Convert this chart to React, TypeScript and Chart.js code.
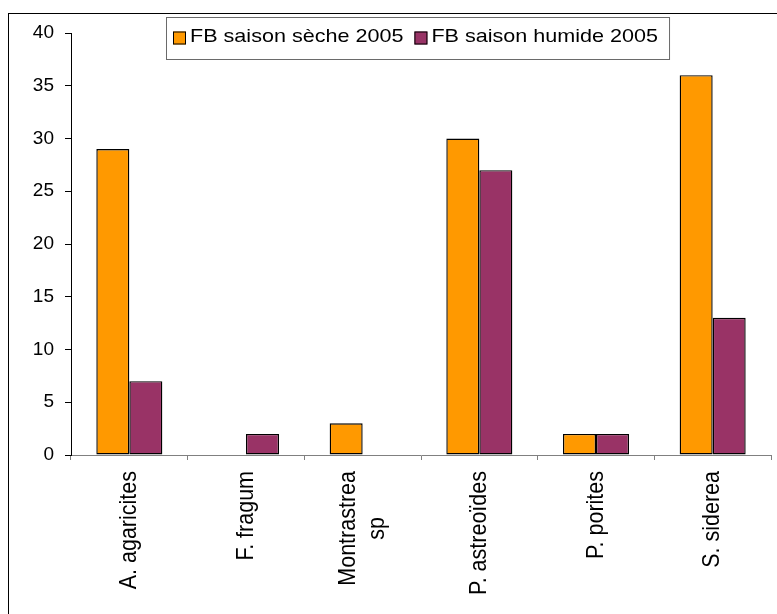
import { useEffect, useRef } from "react";
import { Chart, registerables } from "chart.js";

Chart.register(...registerables);

// Species (a nested array is a label drawn on several lines)
const categories: (string | string[])[] = [
  "A. agaricites",
  "F. fragum",
  ["Montrastrea", "sp"],
  "P. astreoïdes",
  "P. porites",
  "S. siderea",
];

const seriesNames = ["FB saison sèche 2005", "FB saison humide 2005"];
const dryValues = [29, 0, 3, 30, 2, 36];
const wetValues = [7, 2, 0, 27, 2, 13];
const seriesColors = ["#FF9900", "#993366"];

const yMin = 0;
const yMax = 40;
const yStep = 5;

const FONT = "'Liberation Sans', Arial, sans-serif";

// White page, plus the outer frame of the chart object
const framePlugin = {
  id: "frame",
  beforeDraw(chart: any) {
    const ctx = chart.ctx;
    ctx.save();
    ctx.fillStyle = "#fff";
    ctx.fillRect(0, 0, chart.width, chart.height);
    ctx.restore();
  },
  afterDraw(chart: any) {
    const ctx = chart.ctx;
    ctx.save();
    ctx.strokeStyle = "#000";
    ctx.lineWidth = 1;
    ctx.strokeRect(8.5, 13.5, chart.width + 40, chart.height + 40);
    ctx.restore();
  },
};

// Vertical category labels, lines centred on each other
const categoryLabelPlugin = {
  id: "categoryLabels",
  afterDraw(chart: any) {
    const xs = chart.scales.x;
    const ctx = chart.ctx;
    const size = 21.5;
    const stretch = 1.14;
    const lh = size * 1.2;
    ctx.save();
    ctx.font = `${size}px ${FONT}`;
    ctx.fillStyle = "#000";
    ctx.textBaseline = "middle";
    ctx.textAlign = "center";
    (chart.data.labels as (string | string[])[]).forEach((lab, i) => {
      const lines = Array.isArray(lab) ? lab : [lab];
      const w = Math.max(...lines.map((l) => ctx.measureText(l).width));
      ctx.save();
      ctx.translate(xs.getPixelForValue(i), xs.top + 16);
      ctx.rotate(-Math.PI / 2);
      ctx.scale(1, stretch);
      lines.forEach((l, j) => {
        ctx.fillText(l, -w / 2, (j - (lines.length - 1) / 2) * lh);
      });
      ctx.restore();
    });
    ctx.restore();
  },
};

// Boxed legend floating over the top of the plot
const boxLegendPlugin = {
  id: "boxLegend",
  afterDraw(chart: any) {
    const ctx = chart.ctx;
    const size = 18.6;
    const stretch = 1.16;
    const left = 166;
    const top = 17;
    const height = 42;
    const baseline = 41.7;
    ctx.save();
    ctx.font = `${size}px ${FONT}`;
    const items = chart.data.datasets.map((ds: any) => ({
      text: ds.label as string,
      color: ds.backgroundColor as string,
      w: ctx.measureText(ds.label).width * stretch,
    }));
    let x = left + 7;
    const placed: { mx: number; tx: number; text: string; color: string }[] = [];
    items.forEach((it: any) => {
      placed.push({ mx: x, tx: x + 17, text: it.text, color: it.color });
      x = x + 17 + it.w + 11;
    });
    const width = x - left;

    ctx.fillStyle = "#fff";
    ctx.fillRect(left, top, width, height);
    ctx.strokeStyle = "#6a6a6a";
    ctx.lineWidth = 1;
    ctx.strokeRect(left + 0.5, top + 0.5, width, height);

    placed.forEach((p) => {
      ctx.fillStyle = p.color;
      ctx.fillRect(p.mx, 31.5, 13, 13);
      ctx.strokeStyle = "#000";
      ctx.strokeRect(p.mx + 0.5, 32, 12, 12);
      ctx.save();
      ctx.translate(p.tx, baseline);
      ctx.scale(stretch, 1);
      ctx.fillStyle = "#000";
      ctx.textBaseline = "alphabetic";
      ctx.textAlign = "left";
      ctx.fillText(p.text, 0, 0);
      ctx.restore();
    });
    ctx.restore();
  },
};

export default function App() {
  const canvasRef = useRef<HTMLCanvasElement | null>(null);

  useEffect(() => {
    if (!canvasRef.current) return;
    const chart = new Chart(canvasRef.current, {
      type: "bar",
      data: {
        labels: categories as any,
        datasets: [
          {
            label: seriesNames[0],
            data: dryValues,
            backgroundColor: seriesColors[0],
            borderColor: "#000",
            borderWidth: 1.4,
            borderSkipped: false,
          },
          {
            label: seriesNames[1],
            data: wetValues,
            backgroundColor: seriesColors[1],
            borderColor: "#000",
            borderWidth: 1.4,
            borderSkipped: false,
          },
        ],
      },
      options: {
        responsive: false,
        animation: false,
        layout: { padding: { left: 0, top: 33, right: 6, bottom: 0 } },
        datasets: { bar: { categoryPercentage: 0.566, barPercentage: 1 } },
        plugins: {
          legend: { display: false },
          tooltip: { enabled: false },
        },
        scales: {
          x: {
            type: "category",
            offset: true,
            grid: {
              display: true,
              drawOnChartArea: false,
              drawTicks: true,
              tickLength: 5,
              color: "#808080",
              offset: true,
            },
            border: { color: "#808080", width: 1 },
            ticks: { display: false },
            afterFit: (s: any) => {
              s.height = 159;
            },
          },
          y: {
            min: yMin,
            max: yMax,
            ticks: {
              stepSize: yStep,
              color: "#000",
              padding: 11,
              font: { family: FONT, size: 19 },
            },
            grid: {
              drawOnChartArea: false,
              drawTicks: true,
              tickLength: 6,
              color: "#000",
            },
            border: { color: "#000", width: 1 },
            afterFit: (s: any) => {
              s.width = 71;
            },
          },
        },
      } as any,
      plugins: [framePlugin, categoryLabelPlugin, boxLegendPlugin],
    });
    return () => chart.destroy();
  }, []);

  return (
    <div style={{ position: "absolute", left: 0, top: 0, width: 777, height: 614 }}>
      <canvas ref={canvasRef} width={777} height={614} style={{ display: "block" }} />
    </div>
  );
}
